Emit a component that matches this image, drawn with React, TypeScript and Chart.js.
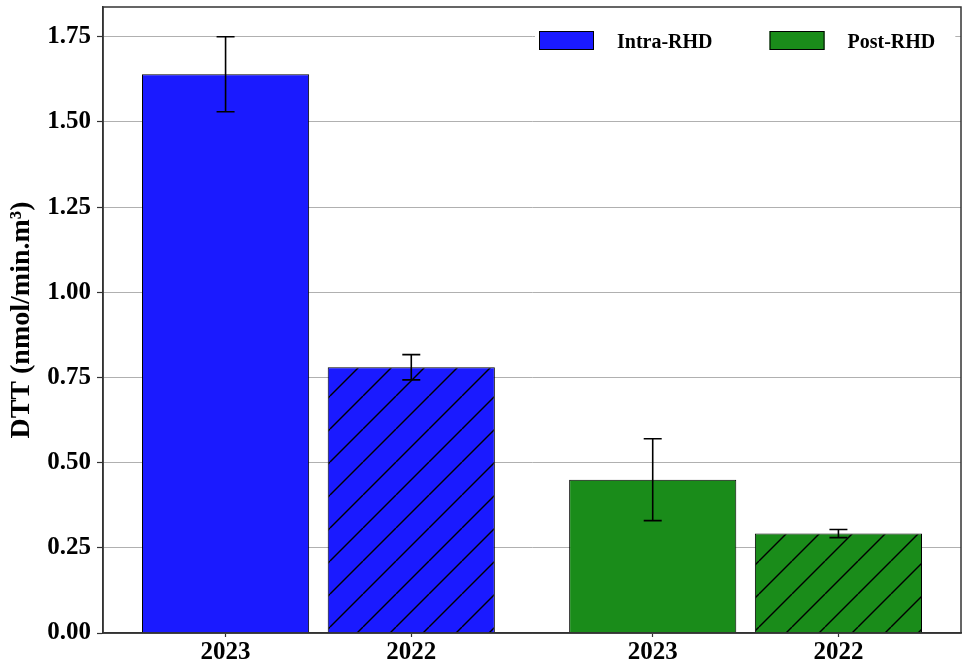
import React, { useEffect, useRef } from "react";
import { Chart, registerables } from "chart.js";

Chart.register(...registerables);

// ---- data ----
const seriesNames = ["Intra-RHD", "Post-RHD"];
const yearLabels = ["2023", "2022"];
const intraPositions = [0, 1];
const postPositions = [2.3, 3.3];
const intraValues = [1.64, 0.78];
const intraErrors = [0.11, 0.037];
const postValues = [0.45, 0.292];
const postErrors = [0.12, 0.012];
const xTickLabels = ["2023", "2022", "2023", "2022"];
const yAxisTitle = "DTT (nmol/min.m³)";

const FONT = '"Liberation Serif", "Times New Roman", serif';
const BLUE = "#1a1aff";
const GREEN = "#1a8c1a";

function makeHatch(color: string): CanvasPattern | string {
  const s = 33;
  const c = document.createElement("canvas");
  c.width = s;
  c.height = s;
  const g = c.getContext("2d");
  if (!g) return color;
  g.fillStyle = color;
  g.fillRect(0, 0, s, s);
  g.strokeStyle = "#000";
  g.lineWidth = 1.4;
  for (const off of [-s, 0, s]) {
    g.beginPath();
    g.moveTo(off, s);
    g.lineTo(off + s, 0);
    g.stroke();
  }
  return g.createPattern(c, "repeat") || color;
}

const errorBarPlugin = {
  id: "errorBars",
  afterDatasetsDraw(chart: any) {
    const ctx = chart.ctx;
    const yScale = chart.scales.y;
    ctx.save();
    ctx.strokeStyle = "#000";
    ctx.lineWidth = 1.6;
    chart.data.datasets.forEach((ds: any, di: number) => {
      const meta = chart.getDatasetMeta(di);
      ds.data.forEach((pt: any, i: number) => {
        const err = ds.errors[i];
        const el = meta.data[i];
        if (!el) return;
        const x = el.x;
        const yt = yScale.getPixelForValue(pt.y + err);
        const yb = yScale.getPixelForValue(pt.y - err);
        const cap = 9;
        ctx.beginPath();
        ctx.moveTo(x, yt);
        ctx.lineTo(x, yb);
        ctx.moveTo(x - cap, yt);
        ctx.lineTo(x + cap, yt);
        ctx.moveTo(x - cap, yb);
        ctx.lineTo(x + cap, yb);
        ctx.stroke();
      });
    });
    ctx.restore();
  },
};

const framePlugin = {
  id: "frameAndLegend",
  afterDraw(chart: any) {
    const ctx = chart.ctx;
    const a = chart.chartArea;
    ctx.save();
    // frame
    ctx.strokeStyle = "#333";
    ctx.lineWidth = 1.5;
    ctx.strokeRect(a.left, a.top, a.right - a.left, a.bottom - a.top);

    // legend
    ctx.font = `bold 20px ${FONT}`;
    const boxW = 55;
    const boxH = 19;
    const gapText = 23;
    const gapItem = 57;
    const startX = a.left + 436;
    const boxTop = a.top + 24;
    const textY = a.top + 36;
    let total = 0;
    chart.data.datasets.forEach((ds: any, i: number) => {
      total += boxW + gapText + ctx.measureText(ds.label).width + (i < chart.data.datasets.length - 1 ? gapItem : 0);
    });
    ctx.fillStyle = "#fff";
    ctx.fillRect(startX - 4, a.top + 16, total + 24, 40);
    let x = startX;
    chart.data.datasets.forEach((ds: any) => {
      ctx.fillStyle = ds.legendColor;
      ctx.fillRect(x, boxTop, boxW, boxH);
      ctx.strokeStyle = "#000";
      ctx.lineWidth = 1;
      ctx.strokeRect(x + 0.5, boxTop + 0.5, boxW - 1, boxH - 1);
      x += boxW + gapText;
      ctx.fillStyle = "#000";
      ctx.textBaseline = "middle";
      ctx.textAlign = "left";
      ctx.fillText(ds.label, x, textY);
      x += ctx.measureText(ds.label).width + gapItem;
    });
    ctx.restore();
  },
};

export default function App() {
  const ref = useRef<HTMLCanvasElement | null>(null);

  useEffect(() => {
    if (!ref.current) return;
    const blueHatch = makeHatch(BLUE);
    const greenHatch = makeHatch(GREEN);
    const tickPositions = [...intraPositions, ...postPositions];

    const chart = new Chart(ref.current, {
      type: "bar",
      data: {
        datasets: [
          {
            label: seriesNames[0],
            data: intraValues.map((v, i) => ({ x: intraPositions[i], y: v })),
            errors: intraErrors,
            backgroundColor: [BLUE, blueHatch],
            legendColor: BLUE,
            borderColor: "#000",
            borderWidth: 1,
            grouped: false,
            barPercentage: 0.9,
            categoryPercentage: 1,
          } as any,
          {
            label: seriesNames[1],
            data: postValues.map((v, i) => ({ x: postPositions[i], y: v })),
            errors: postErrors,
            backgroundColor: [GREEN, greenHatch],
            legendColor: GREEN,
            borderColor: "#000",
            borderWidth: 1,
            grouped: false,
            barPercentage: 0.9,
            categoryPercentage: 1,
          } as any,
        ],
      },
      options: {
        responsive: false,
        animation: false,
        layout: { padding: { top: 7, right: 6, left: 0, bottom: 0 } },
        plugins: {
          legend: { display: false },
          tooltip: { enabled: false },
        },
        scales: {
          x: {
            type: "linear",
            min: -0.66,
            max: 3.96,
            offset: false,
            grid: {
              offset: false,
              drawOnChartArea: false,
              drawTicks: true,
              tickLength: 4,
              tickColor: "#333",
              tickWidth: 1.2,
            },
            border: { display: true, color: "#333", width: 1.5 },
            afterBuildTicks: (scale: any) => {
              scale.ticks = tickPositions.map((v) => ({ value: v }));
            },
            afterFit: (scale: any) => {
              scale.height = 33;
              scale.paddingLeft = 0;
              scale.paddingRight = 0;
            },
            ticks: {
              autoSkip: false,
              maxRotation: 0,
              padding: 1,
              color: "#000",
              font: { family: FONT, size: 25, weight: "bold" },
              callback: (_v: any, i: number) => xTickLabels[i],
            },
          } as any,
          y: {
            type: "linear",
            min: 0,
            max: 1.8375,
            grid: {
              color: "#b0b0b0",
              lineWidth: 1,
              tickLength: 6,
              tickColor: "#333",
              tickWidth: 1.2,
            },
            border: { display: true, color: "#333", width: 1.5 },
            afterFit: (scale: any) => {
              scale.width = 103;
              scale.paddingTop = 0;
              scale.paddingBottom = 0;
            },
            title: {
              display: true,
              text: yAxisTitle,
              color: "#000",
              font: { family: FONT, size: 28, weight: "bold" },
              padding: { top: 5, bottom: 0 },
            },
            ticks: {
              stepSize: 0.25,
              includeBounds: false,
              padding: 6,
              color: "#000",
              font: { family: FONT, size: 25, weight: "bold" },
              callback: (v: any) => Number(v).toFixed(2),
            },
          } as any,
        },
      },
      plugins: [errorBarPlugin, framePlugin],
    } as any);

    return () => chart.destroy();
  }, []);

  return (
    <div style={{ position: "absolute", left: 0, top: 0, width: 967, height: 666, background: "#fff" }}>
      <canvas ref={ref} width={967} height={666} style={{ width: 967, height: 666 }} />
    </div>
  );
}
